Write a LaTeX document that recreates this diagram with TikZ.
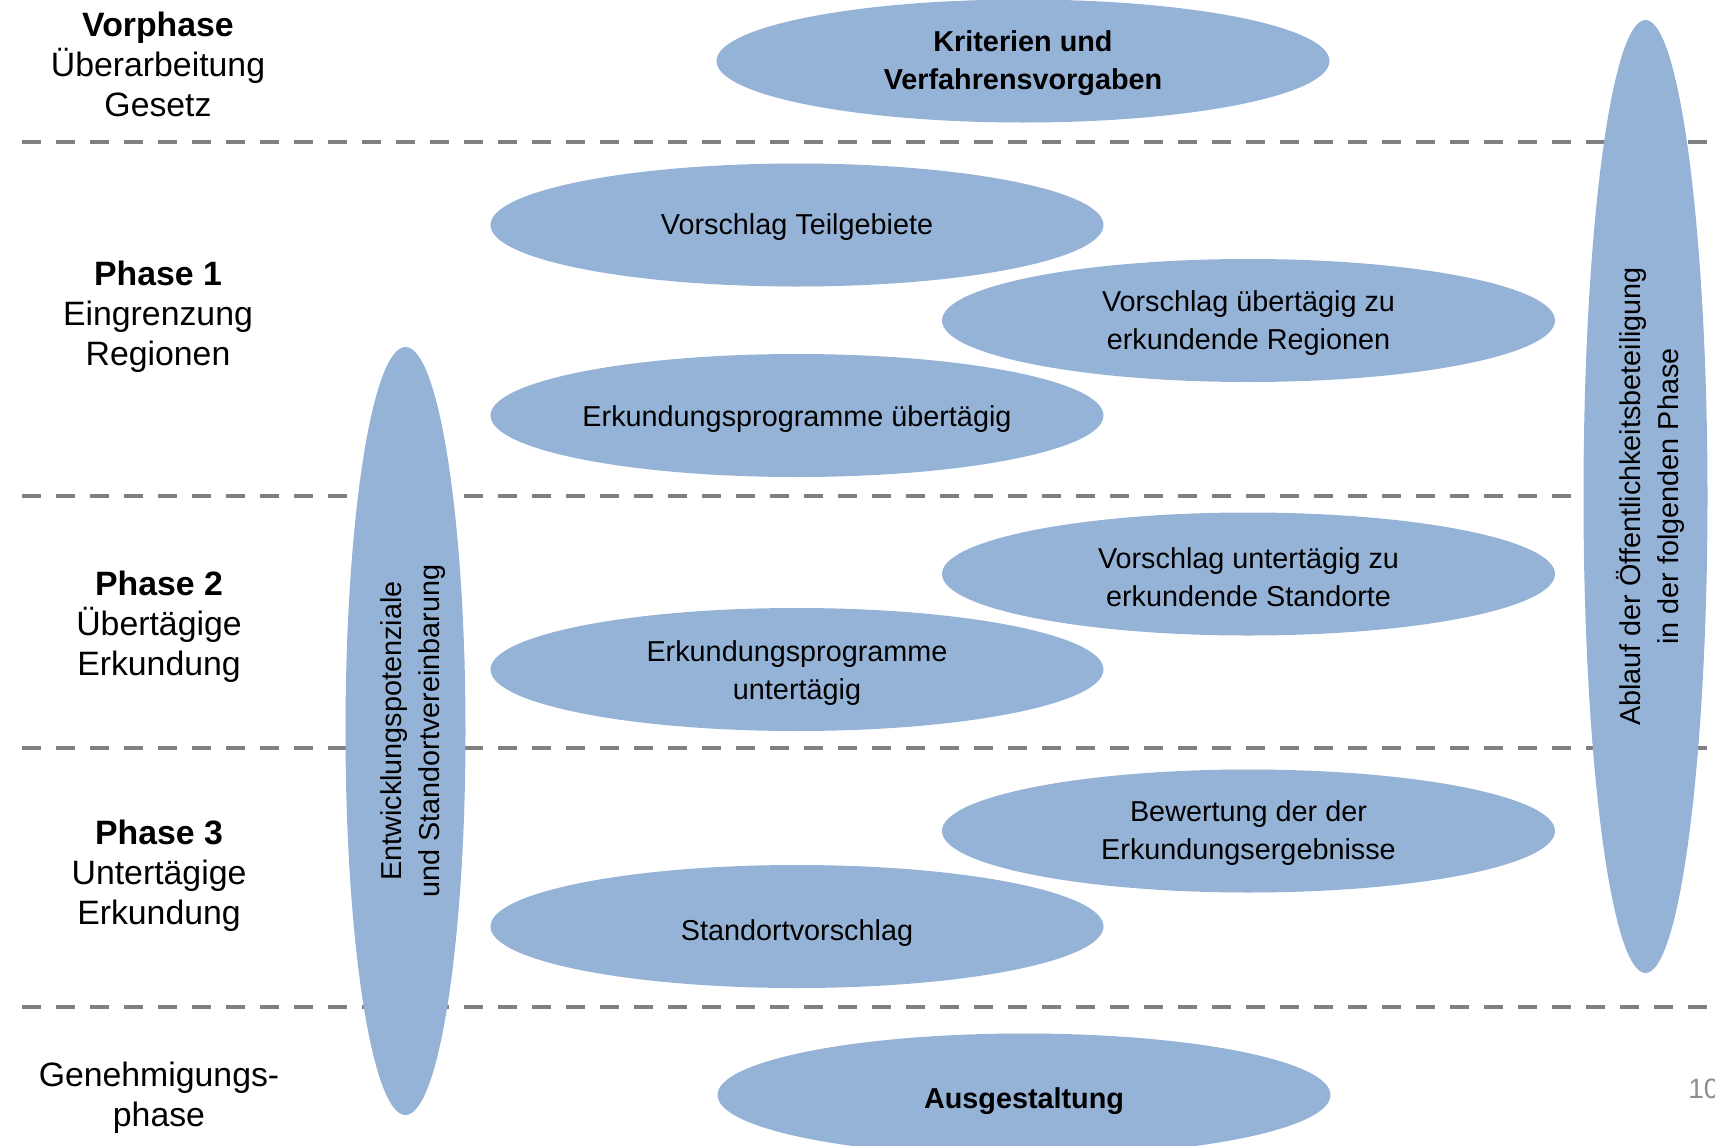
\documentclass[tikz,border=0pt]{standalone}
\usepackage{fontspec}
\setmainfont{Liberation Sans}
\usetikzlibrary{shapes.geometric}
\definecolor{phasefill}{RGB}{149,179,215}
\definecolor{sepgray}{RGB}{128,128,128}
\begin{document}
\begin{tikzpicture}[x=0.5pt,y=-0.5pt,
  sep/.style={draw=sepgray, line width=2pt, dash pattern=on 9.25pt off 7.75pt},
  blob/.style={ellipse, fill=phasefill, inner sep=0pt,
    minimum width=306.5pt, minimum height=61.5pt},
  tallblob/.style={blob, rotate=90},
  steptext/.style={align=center, inner sep=0pt,
    font=\fontsize{14.4}{19}\selectfont},
  phaselabel/.style={align=center, inner sep=0pt,
    font=\fontsize{16.9}{20}\selectfont}]
\useasboundingbox (0,0) rectangle (1715,1146);

% phase separators
\foreach \yy/\nm in {142/s1, 495.5/s2, 748/s3, 1007/s4}{
  \coordinate (\nm a) at (22,\yy);
  \coordinate (\nm b) at (1715,\yy);
  \draw[sep] (\nm a) -- (\nm b);
}

% phase labels
\node[phaselabel] (vor) at (158,64.5) {\textbf{Vorphase}\\Überarbeitung\\Gesetz};
\node[phaselabel] (p1) at (158,316.5) {\textbf{Phase 1}\\Eingrenzung\\Regionen};
\node[phaselabel] (p2) at (159,627) {\textbf{Phase 2}\\Übertägige\\Erkundung};
\node[phaselabel] (p3) at (159,876) {\textbf{Phase 3}\\Untertägige\\Erkundung};
\node[phaselabel] (gen) at (159,1097.5) {Genehmigungs-\\phase};

% process steps: shapes
\node[blob] (krit) at (1023,61) {};
\node[blob] (teil) at (797,225) {};
\node[blob] (regio) at (1248.5,320.5) {};
\node[blob] (progue) at (797,415.5) {};
\node[blob] (stand) at (1248.5,574) {};
\node[blob] (progut) at (797,669.5) {};
\node[blob] (bew) at (1248.5,831) {};
\node[blob] (svor) at (797,926.5) {};
\node[blob] (ausg) at (1024,1095) {};

% process steps: texts
\node[steptext] (krit-t) at ([yshift=-1.1pt]krit.center) {\textbf{Kriterien und}\\\textbf{Verfahrensvorgaben}};
\node[steptext] (teil-t) at ([yshift=-1.1pt]teil.center) {Vorschlag Teilgebiete};
\node[steptext] (regio-t) at ([yshift=-1.1pt]regio.center) {Vorschlag übertägig zu\\erkundende Regionen};
\node[steptext] (progue-t) at ([yshift=-1.6pt]progue.center) {Erkundungsprogramme übertägig};
\node[steptext] (stand-t) at ([yshift=-1.6pt]stand.center) {Vorschlag untertägig zu\\erkundende Standorte};
\node[steptext] (progut-t) at ([yshift=-1.6pt]progut.center) {Erkundungsprogramme\\untertägig};
\node[steptext] (bew-t) at ([yshift=-1.1pt]bew.center) {Bewertung der der\\Erkundungsergebnisse};
\node[steptext] (svor-t) at ([yshift=-3.3pt]svor.center) {Standortvorschlag};
\node[steptext] (ausg-t) at ([yshift=-3.3pt]ausg.center) {\textbf{Ausgestaltung}};

% spanning ellipses
\node[tallblob, minimum width=384pt, minimum height=60pt] (entw) at (405.5,731) {};
\node[tallblob, minimum width=476.5pt, minimum height=62pt] (oeff) at (1645.5,496.5) {};
\node[steptext, rotate=90] (entw-t) at ([xshift=3.8pt]entw.center)
  {Entwicklungspotenziale\\und Standortvereinbarung};
\node[steptext, rotate=90] (oeff-t) at ([xshift=2.4pt]oeff.center)
  {Ablauf der Öffentlichkeitsbeteiligung\\in der folgenden Phase};

% page number
\node[anchor=base west, inner sep=0pt, text=sepgray!90, font=\fontsize{14}{17}\selectfont] (pg) at (1688,1098) {10};
\end{tikzpicture}
\end{document}
